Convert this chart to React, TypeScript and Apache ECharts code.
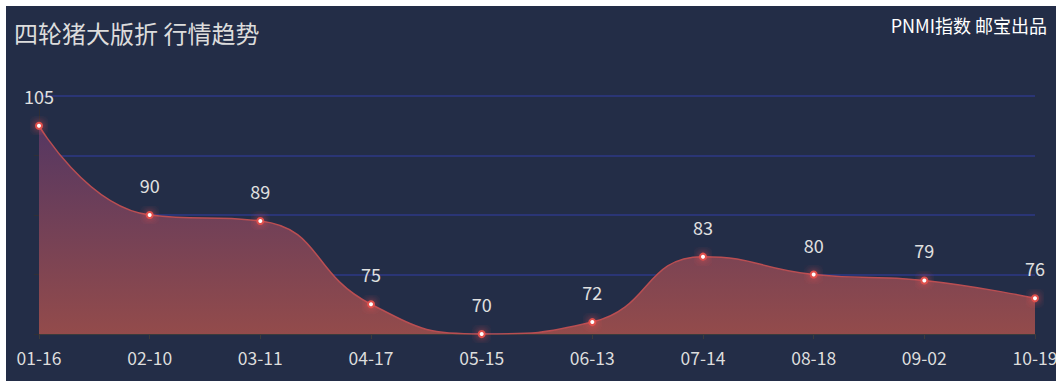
import React, { useEffect, useRef } from "react";
import * as echarts from "echarts";

const categories = ["01-16", "02-10", "03-11", "04-17", "05-15", "06-13", "07-14", "08-18", "09-02", "10-19"];
const values = [105, 90, 89, 75, 70, 72, 83, 80, 79, 76];
const titleText = "四轮猪大版折 行情趋势";
const subText = "PNMI指数 邮宝出品";

const FONT = "'Microsoft YaHei', 'Noto Sans CJK SC', 'Noto Sans', sans-serif";

export default function App() {
  const ref = useRef<HTMLDivElement>(null);
  useEffect(() => {
    if (!ref.current) return;
    const chart = echarts.init(ref.current, undefined, { renderer: "svg" });
    chart.setOption({
      animation: false,
      backgroundColor: "#232d47",
      textStyle: { fontFamily: FONT },
      title: [
        {
          text: titleText,
          left: 3,
          top: 9,
          textStyle: { color: "#dcdcdc", fontSize: 24, fontWeight: "normal", fontFamily: FONT },
        },
        {
          text: subText,
          right: 4,
          top: 5,
          textStyle: { color: "#ffffff", fontSize: 18, fontWeight: "normal", fontFamily: FONT },
        },
      ],
      grid: { left: 33, right: 21, top: 90, bottom: 47, outerBoundsMode: "none", containLabel: false },
      xAxis: {
        type: "category",
        data: categories,
        boundaryGap: false,
        axisLine: { show: true, lineStyle: { color: "#3b3b3b" } },
        axisTick: { show: true, alignWithLabel: true, lineStyle: { color: "#3b3b3b" } },
        axisLabel: { color: "#dddddd", fontSize: 17.5, margin: 15, fontFamily: FONT, hideOverlap: false },
        splitLine: { show: false },
      },
      yAxis: {
        type: "value",
        min: 70,
        max: 110,
        interval: 10,
        axisLine: { show: true, lineStyle: { color: "#2f2f36" } },
        axisTick: { show: true, lineStyle: { color: "#2f2f36" } },
        axisLabel: { show: false },
        splitLine: { show: true, lineStyle: { color: "#2e3886", width: 1.6 } },
      },
      series: [
        {
          type: "line",
          data: values,
          smooth: true,
          symbol: "circle",
          symbolSize: 6,
          showSymbol: true,
          lineStyle: { color: "#b94e52", width: 1.5 },
          itemStyle: {
            color: "#ffffff",
            borderColor: "#e0504c",
            borderWidth: 2,
            shadowColor: "rgba(255,80,80,0.9)",
            shadowBlur: 8,
          },
          areaStyle: {
            opacity: 1,
            color: new echarts.graphic.LinearGradient(0, 0, 0, 1, [
              { offset: 0, color: "#553762" },
              { offset: 1, color: "#934b4b" },
            ]),
          },
          label: {
            show: true,
            position: "top",
            distance: 17,
            color: "#e0e0e0",
            fontSize: 18,
            fontFamily: FONT,
          },
        },
      ],
    });
    return () => chart.dispose();
  }, []);
  return (
    <div
      ref={ref}
      style={{ position: "absolute", left: 6, top: 6, width: 1050, height: 375, overflow: "hidden" }}
    />
  );
}
